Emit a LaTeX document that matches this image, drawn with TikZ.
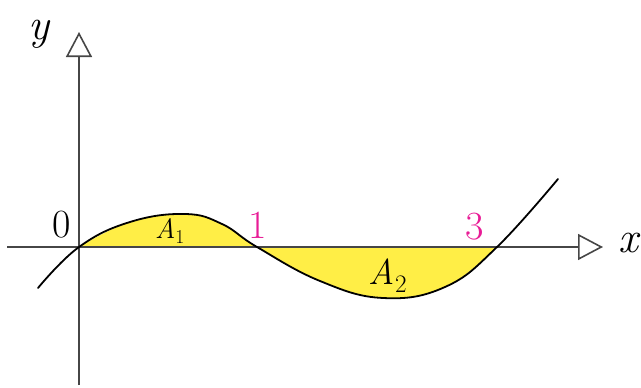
\documentclass[tikz,border=0pt]{standalone}
\usepackage{fontspec}
\usepackage{xcolor}
\usepackage{tikz}
\usetikzlibrary{arrows.meta}
\definecolor{axisgray}{RGB}{70,70,70}
\definecolor{shadeyellow}{RGB}{255,238,70}
\definecolor{rootpink}{RGB}{232,28,150}

\begin{document}
\begin{tikzpicture}[x=1pt, y=-1pt,
  axis/.style={line width=1.6pt, color=axisgray, -{Triangle[open, length=25pt, width=26pt, line width=1.6pt]}},
  curve/.style={line width=1.8pt, black, line cap=round},
  area/.style={fill=shadeyellow},
  varlabel/.style={inner sep=0pt, font=\fontsize{44}{44}\selectfont\itshape},
  root/.style={inner sep=0pt, font=\fontsize{40}{40}\selectfont, text=rootpink},
  arealabel/.style={inner sep=0pt, font=\fontsize{28}{28}\selectfont\itshape}]
  \useasboundingbox (0,0) rectangle (641,388);
  % shaded areas between curve and x-axis
  \fill[area] plot[smooth, tension=0.7] coordinates {(79,247) (130,222) (185,214) (222,224) (257,247) (320,281) (383,298) (445,287) (497,247)} -- cycle;
  % axes
  \coordinate (xstart) at (7,247);
  \coordinate (xend) at (603,247);
  \coordinate (ystart) at (79,385);
  \coordinate (yend) at (79,32);
  \draw[axis] (xstart) -- (xend);
  \draw[axis] (ystart) -- (yend);
  % the cubic
  \draw[curve] plot[smooth, tension=0.7] coordinates {(38,288) (79,247) (130,222) (185,214) (222,224) (257,247) (320,281) (383,298) (445,287) (497,247) (558,179)};
  % labels
  \node[varlabel] (ylabel) at (39,34) {y};
  \node[varlabel] (xlabel) at (628,243) {x};
  \node[root, text=black] (zero) at (62,225) {0};
  \node[root] (one) at (258,225) {1};
  \node[root] (three) at (475,227) {3};
  \node[arealabel] (aone) at (170,231) {A\textsubscript{\upshape 1}};
  \node[arealabel, font=\fontsize{36}{36}\selectfont\itshape] (atwo) at (388,276) {A\textsubscript{\upshape 2}};
\end{tikzpicture}
\end{document}
